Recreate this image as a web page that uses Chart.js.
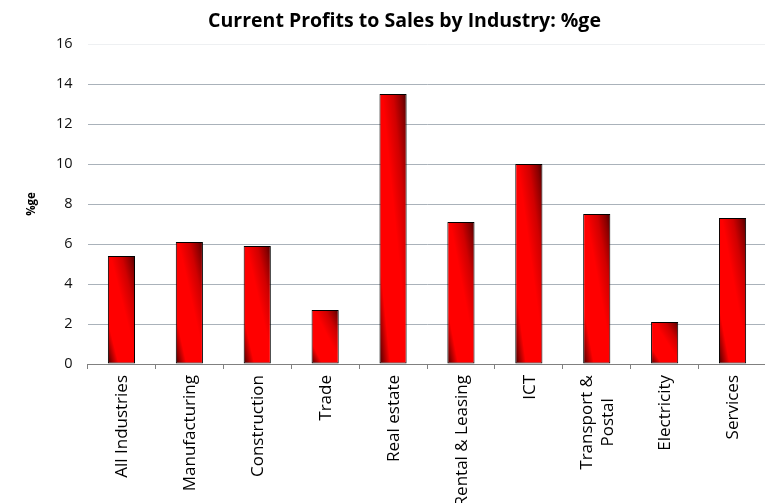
<!DOCTYPE html>
<html>
<head>
<meta charset="utf-8">
<script src="https://cdn.jsdelivr.net/npm/chart.js@4/dist/chart.umd.min.js"></script>
<style>
  html, body { margin: 0; padding: 0; background: #ffffff; overflow: hidden; }
  #wrap { position: relative; width: 768px; height: 503px; }
</style>
</head>
<body>
<div id="wrap"><canvas id="chart"></canvas></div>
<script>
// Industry categories (multi-line entries are arrays)
const categories = [
  'All Industries', 'Manufacturing', 'Construction', 'Trade', 'Real estate',
  'Rental & Leasing', 'ICT', ['Transport &', 'Postal'], 'Electricity', 'Services'
];
// Current profits to sales ratio, %
const profitRatio = [5.4, 6.1, 5.9, 2.7, 13.5, 7.1, 10.0, 7.5, 2.1, 7.3];
// Value axis range
const yMin = 0;
const yMax = 16;
const yStep = 2;

const BAR_FRACTION = 0.4;

// Diagonal shaded red fill for each bar, dark at the lower-left and upper-right corners
function barFill(ctx) {
  if (ctx.type !== 'data') return '#ff0000';
  const chart = ctx.chart;
  const xs = chart.scales.x, ys = chart.scales.y;
  if (!xs || !ys || !isFinite(xs.width) || xs.width <= 0) return '#ff0000';
  const cx = xs.getPixelForValue(ctx.dataIndex);
  const w = (xs.width / categories.length) * BAR_FRACTION;
  const left = cx - w / 2;
  const top = ys.getPixelForValue(ctx.parsed ? ctx.parsed.y : profitRatio[ctx.dataIndex]);
  const bottom = ys.getPixelForValue(0);
  const h = Math.max(bottom - top, 1);
  const L = Math.hypot(w, h);
  const len = 2 * w * h / L;
  const g = chart.ctx.createLinearGradient(left, bottom, left + (h / L) * len, bottom - (w / L) * len);
  g.addColorStop(0, '#400000');
  g.addColorStop(0.08, '#900000');
  g.addColorStop(0.2, '#ff0000');
  g.addColorStop(0.55, '#ff0000');
  g.addColorStop(0.75, '#d00000');
  g.addColorStop(0.9, '#8a0000');
  g.addColorStop(1, '#480000');
  return g;
}

// Category labels, drawn vertically with each line centred under its bar
const verticalLabels = {
  id: 'verticalLabels',
  afterDraw(chart) {
    const xs = chart.scales.x;
    const c = chart.ctx;
    c.save();
    c.font = '17px "Open Sans"';
    c.fillStyle = '#000000';
    c.textBaseline = 'middle';
    c.textAlign = 'center';
    const lh = 21;
    categories.forEach((lab, i) => {
      const lines = Array.isArray(lab) ? lab : [lab];
      const x = xs.getPixelForValue(i) + 1;
      const y = xs.top + 11;
      const maxW = Math.max(...lines.map(s => c.measureText(s).width));
      c.save();
      c.translate(x, y);
      c.rotate(-Math.PI / 2);
      lines.forEach((s, j) => {
        c.fillText(s, -maxW / 2, (j - (lines.length - 1) / 2) * lh);
      });
      c.restore();
    });
    c.restore();
  }
};

// Centre the heading a little right of the canvas centre
const titleShift = {
  id: 'titleShift',
  afterLayout(chart) {
    if (chart.titleBlock) {
      chart.titleBlock.left = 41;
      chart.titleBlock.right = 768;
    }
  }
};

new Chart(document.getElementById('chart'), {
  type: 'bar',
  data: {
    labels: categories,
    datasets: [{
      data: profitRatio,
      backgroundColor: barFill,
      borderColor: '#000000',
      borderWidth: 1,
      borderSkipped: false,
      barPercentage: 0.5,
      categoryPercentage: 0.8
    }]
  },
  options: {
    responsive: true,
    maintainAspectRatio: false,
    animation: false,
    layout: { padding: { left: 0, right: 1.5, top: 0, bottom: 0 } },
    plugins: {
      legend: { display: false },
      tooltip: { enabled: false },
      title: {
        display: true,
        text: 'Current Profits to Sales by Industry: %ge',
        color: '#000000',
        font: { family: '"Open Sans"', size: 19.5, weight: 'bold' },
        padding: { top: 10, bottom: 10.6 }
      }
    },
    scales: {
      x: {
        grid: {
          display: true,
          drawOnChartArea: false,
          drawTicks: true,
          tickLength: 5,
          color: '#808080',
          lineWidth: 1
        },
        border: { display: true, color: '#808080', width: 1 },
        ticks: { display: false },
        afterFit(scale) { scale.height = 139; }
      },
      y: {
        min: yMin,
        max: yMax,
        ticks: {
          stepSize: yStep,
          padding: 15,
          color: '#111111',
          font: { family: '"Open Sans"', size: 14.5 }
        },
        grid: {
          drawTicks: false,
          color: (c) => c.tick && c.tick.value === yMax ? '#eef0f2' : (c.tick && c.tick.value === 0 ? '#808080' : '#aab2ba'),
          lineWidth: 1
        },
        border: { display: false },
        title: {
          display: true,
          text: '%ge',
          color: '#000000',
          font: { family: '"Open Sans"', size: 11.5, weight: 'bold' },
          padding: { top: 25, bottom: 0 }
        },
        afterFit(scale) { scale.width = 87.5; }
      }
    }
  },
  plugins: [verticalLabels, titleShift]
});
</script>
</body>
</html>
